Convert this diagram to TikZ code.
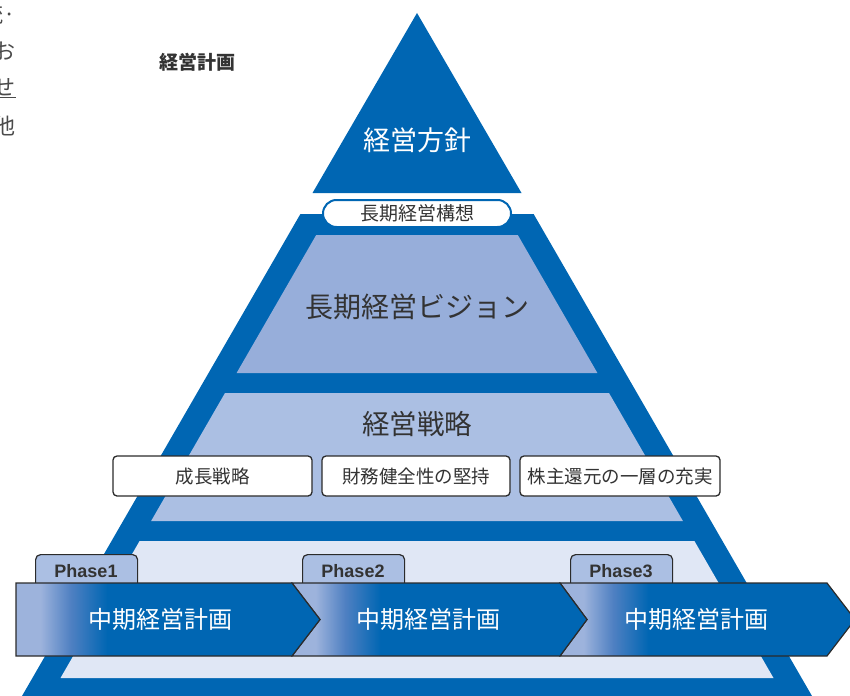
\documentclass[tikz,border=0pt]{standalone}
\usepackage{fontspec}
\setmainfont{Noto Sans CJK JP}
\newfontfamily\latinfont{Liberation Sans}
\definecolor{dblue}{HTML}{0066B3}
\definecolor{visionc}{HTML}{97AEDA}
\definecolor{stratc}{HTML}{ABBFE3}
\definecolor{palec}{HTML}{E0E7F5}
\definecolor{txt}{HTML}{333333}
\definecolor{edgec}{HTML}{2B2B2B}
\definecolor{lightseg}{HTML}{9DB3DC}
\definecolor{midseg}{HTML}{4F80C2}
\definecolor{fragc}{HTML}{4A4A4A}
\pgfdeclarehorizontalshading{segshade}{100bp}{color(0bp)=(lightseg); color(29bp)=(lightseg); color(34bp)=(midseg); color(40bp)=(dblue); color(100bp)=(dblue)}
\tikzset{
  fs/.style={font=\fontsize{#1}{#1}\selectfont},
  bigtext/.style={text=txt, fs=28, inner sep=0pt},
  subbox/.style={draw=edgec, line width=1.3pt, fill=white, rounded corners=4pt, minimum height=40pt, text=txt, fs=18.5, inner sep=0pt},
  pill/.style={draw=dblue, line width=2pt, fill=white, rounded corners=13.5pt, minimum width=188pt, minimum height=27pt, text=txt, fs=19, inner sep=0pt},
  tab/.style={draw=edgec, line width=1.2pt, fill=stratc, rounded corners=5pt, minimum width=102pt, minimum height=36pt, anchor=north west, inner sep=0pt},
  tabtext/.style={text=txt, font=\latinfont\bfseries\fontsize{18}{18}\selectfont, inner sep=0pt},
  seg/.style={shading=segshade, draw=edgec, line width=1.2pt},
  segtext/.style={text=white, fs=24, inner sep=0pt},
  frag/.style={text=fragc, fs=22, anchor=east, inner sep=0pt}
}
\begin{document}
\begin{tikzpicture}[x=1pt,y=-1pt]
\useasboundingbox (0,0) rectangle (850,695);
% left edge fragments
\node[frag] (f1) at (16,14) {統·};
\node[frag] (f2) at (16,51) {お};
\node[frag] (f3) at (16,88) {\underline{せ}};
\node[frag] (f4) at (16,126) {他};
% title
\node[text=txt, fs=19, inner sep=0pt] (title) at (197,62) {\bfseries 経営計画};
% top triangle
\fill[dblue] (417,13) -- (521.5,193) -- (312.5,193) -- cycle;
\node[text=white, fs=27, inner sep=0pt] (hoshin) at (417,140) {経営方針};
% outer trapezoid
\fill[dblue] (300.4,214) -- (533.6,214) -- (814.3,700) -- (19.7,700) -- cycle;
% panels
\fill[visionc] (316.2,235) -- (517.8,235) -- (597.4,373) -- (236.6,373) -- cycle;
\fill[stratc] (225,393) -- (609,393) -- (682.9,521) -- (151.1,521) -- cycle;
\fill[palec] (139.6,541) -- (694.4,541) -- (773.5,678) -- (60.5,678) -- cycle;
% pill
\node[pill] (koso) at (417,213.5) {長期経営構想};
% texts
\node[bigtext] (vision) at (417,307) {長期経営ビジョン};
\node[bigtext, fs=27.5] (senryaku) at (417,424) {経営戦略};
\node[subbox, minimum width=199pt] (b1) at (212.5,476) {成長戦略};
\node[subbox, minimum width=188pt] (b2) at (416,476) {財務健全性の堅持};
\node[subbox, minimum width=200pt] (b3) at (620,476) {株主還元の一層の充実};
% tabs
\node[tab] (t1) at (35,554) {};
\node[tab] (t2) at (302,554) {};
\node[tab] (t3) at (570,554) {};
\node[tabtext] (p1) at (86,571) {Phase1};
\node[tabtext] (p2) at (353,571) {Phase2};
\node[tabtext] (p3) at (621,571) {Phase3};
% band segments
\shadedraw[seg] (560,583) -- (827,583) -- (855,619.5) -- (827,656) -- (560,656) -- (587,619.5) -- cycle;
\shadedraw[seg] (292,583) -- (560,583) -- (587,619.5) -- (560,656) -- (292,656) -- (320,619.5) -- cycle;
\shadedraw[seg] (16,583) -- (292,583) -- (320,619.5) -- (292,656) -- (16,656) -- cycle;
\node[segtext] (m1) at (160,619) {中期経営計画};
\node[segtext] (m2) at (428.5,619) {中期経営計画};
\node[segtext] (m3) at (696,619) {中期経営計画};
\end{tikzpicture}
\end{document}
